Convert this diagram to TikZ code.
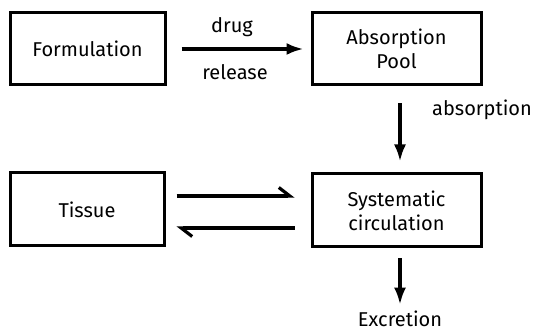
\documentclass[tikz,border=0pt]{standalone}
\usepackage{fontspec}
\setmainfont{Fira Sans}
\usepackage{tikz}
\usetikzlibrary{arrows.meta}

\tikzset{
  pkbox/.style={draw, line width=1.5pt, inner sep=0pt, align=center},
  flow/.style={line width=1.6pt, -{Latex[length=8.5pt,width=6pt]}},
  back/.style={line width=1.6pt, -{Straight Barb[left,length=5.5pt,width=8.5pt]}}
}

\begin{document}
\begin{tikzpicture}[x=0.5pt, y=0.5pt, font=\normalsize]
\useasboundingbox (0,0) rectangle (535,331);
% Compartments
\node[pkbox, minimum width=77.5pt, minimum height=36pt] (form) at (87.5,282) {Formulation};
\node[pkbox, minimum width=84.5pt, minimum height=36pt] (pool) at (396.5,282) {Absorption\\Pool};
\node[pkbox, minimum width=77pt, minimum height=36.5pt] (tissue) at (87,121.5) {Tissue};
\node[pkbox, minimum width=84.5pt, minimum height=36.5pt] (circ) at (396.5,120.5) {Systematic\\circulation};
\node[inner sep=1pt] (excr) at (400,12) {Excretion};

% Transfer between compartments
\draw[flow, shorten <=7.5pt, shorten >=3.5pt] (form.east) -- (pool.west);
\node (drug) at (232,304) {drug};
\node (rel) at (235,259) {release};

\draw[flow, shorten <=8.5pt, shorten >=5.5pt] (pool.south -| 400,0) -- (circ.north -| 400,0);
\node (abs) at (482,221) {absorption};

% Tissue exchange
\draw[back, shorten <=5.5pt, shorten >=8pt] (tissue.east |- 0,135) -- (circ.west |- 0,135);
\draw[back, shorten <=8pt, shorten >=5.5pt] (circ.west |- 0,103) -- (tissue.east |- 0,103);

\draw[flow, shorten <=5pt, shorten >=2pt] (circ.south -| 400,0) -- (excr.north);
\end{tikzpicture}
\end{document}
